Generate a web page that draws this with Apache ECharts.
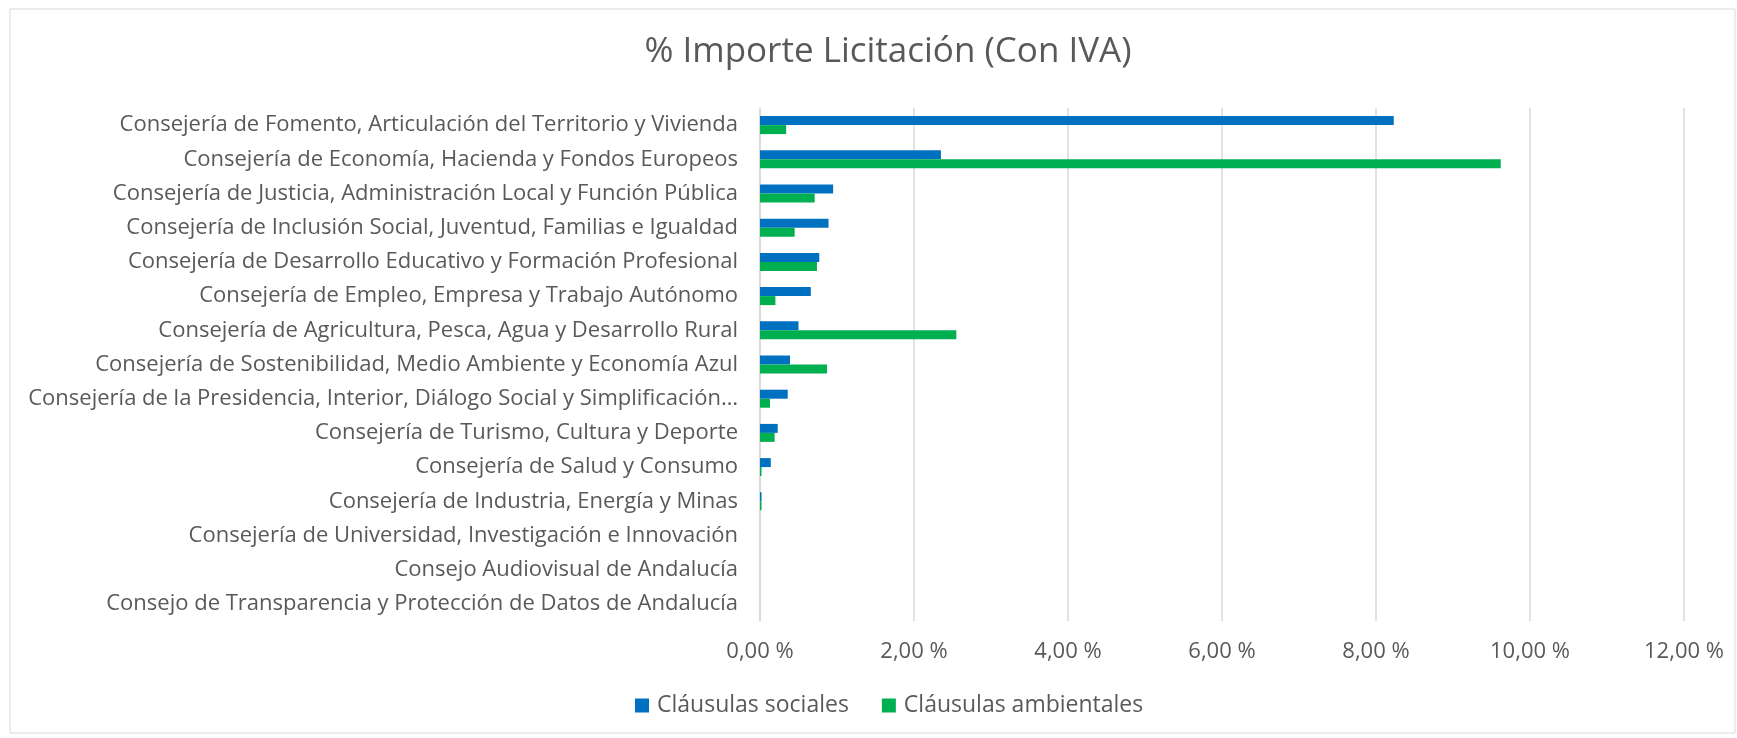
<!DOCTYPE html>
<html>
<head>
<meta charset="utf-8">
<title>% Importe Licitación (Con IVA)</title>
<script src="https://cdn.jsdelivr.net/npm/echarts@6/dist/echarts.min.js"></script>
<style>
    html, body { margin: 0; padding: 0; background: #fff; }
    #chart { width: 1737px; height: 738px; }
</style>
</head>
<body>
<div id="chart"></div>
<script>
// categorías (de arriba abajo)
const consejerias = [
    "Consejería de Fomento, Articulación del Territorio y Vivienda",
    "Consejería de Economía, Hacienda y Fondos Europeos",
    "Consejería de Justicia, Administración Local y Función Pública",
    "Consejería de Inclusión Social, Juventud, Familias e Igualdad",
    "Consejería de Desarrollo Educativo y Formación Profesional",
    "Consejería de Empleo, Empresa y Trabajo Autónomo",
    "Consejería de Agricultura, Pesca, Agua y Desarrollo Rural",
    "Consejería de Sostenibilidad, Medio Ambiente y Economía Azul",
    "Consejería de la Presidencia, Interior, Diálogo Social y Simplificación…",
    "Consejería de Turismo, Cultura y Deporte",
    "Consejería de Salud y Consumo",
    "Consejería de Industria, Energía y Minas",
    "Consejería de Universidad, Investigación e Innovación",
    "Consejo Audiovisual de Andalucía",
    "Consejo de Transparencia y Protección de Datos de Andalucía"
];

// % importe licitación
const clausulasSociales = [8.23, 2.35, 0.95, 0.89, 0.77, 0.66, 0.50, 0.39, 0.36, 0.23, 0.14, 0.02, 0, 0, 0];
const clausulasAmbientales = [0.34, 9.62, 0.71, 0.45, 0.74, 0.20, 2.55, 0.87, 0.13, 0.19, 0.02, 0.02, 0, 0, 0];

const ejeTicks = [0, 2, 4, 6, 8, 10, 12];

const textColor = "#595959";
const font = "'Open Sans', sans-serif";

const chart = echarts.init(document.getElementById("chart"));

chart.setOption({
    animation: false,
    backgroundColor: "#fff",
    textStyle: { fontFamily: font, color: textColor },
    title: {
        text: "% Importe Licitación (Con IVA)",
        left: 883,
        textAlign: "center",
        top: 30,
        textStyle: { fontFamily: font, fontSize: 35, fontWeight: "normal", color: textColor }
    },
    // borde del área del gráfico
    graphic: [{
        type: "rect",
        shape: { x: 10, y: 9, width: 1725, height: 724 },
        style: { fill: null, stroke: "#d9d9d9", lineWidth: 1 },
        silent: true
    }],
    legend: {
        bottom: 16,
        left: 630,
        itemWidth: 14,
        itemHeight: 14,
        itemGap: 33,
        icon: "rect",
        textStyle: { fontFamily: font, fontSize: 23, color: textColor, padding: [0, 0, 0, 3] }
    },
    grid: { left: 760, right: 53, top: 108, height: 513, containLabel: false },
    xAxis: {
        type: "value",
        min: ejeTicks[0],
        max: ejeTicks[ejeTicks.length - 1],
        interval: 2,
        axisLine: { show: false },
        axisTick: { show: false },
        splitLine: { lineStyle: { color: "#d9d9d9", width: 1.5 } },
        axisLabel: {
            margin: 20,
            fontSize: 22,
            color: textColor,
            fontFamily: font,
            formatter: v => v.toFixed(2).replace(".", ",") + " %"
        }
    },
    yAxis: {
        type: "category",
        inverse: true,
        data: consejerias,
        axisLine: { show: true, lineStyle: { color: "#d9d9d9", width: 1.5 } },
        axisTick: { show: false },
        axisLabel: { margin: 22, fontSize: 22, color: textColor, fontFamily: font }
    },
    series: [
        {
            name: "Cláusulas sociales",
            type: "bar",
            data: clausulasSociales,
            barWidth: 9,
            barGap: "0%",
            itemStyle: { color: "#0070c0" }
        },
        {
            name: "Cláusulas ambientales",
            type: "bar",
            data: clausulasAmbientales,
            barWidth: 9,
            barGap: "0%",
            itemStyle: { color: "#00b050" }
        }
    ]
});
</script>
</body>
</html>
